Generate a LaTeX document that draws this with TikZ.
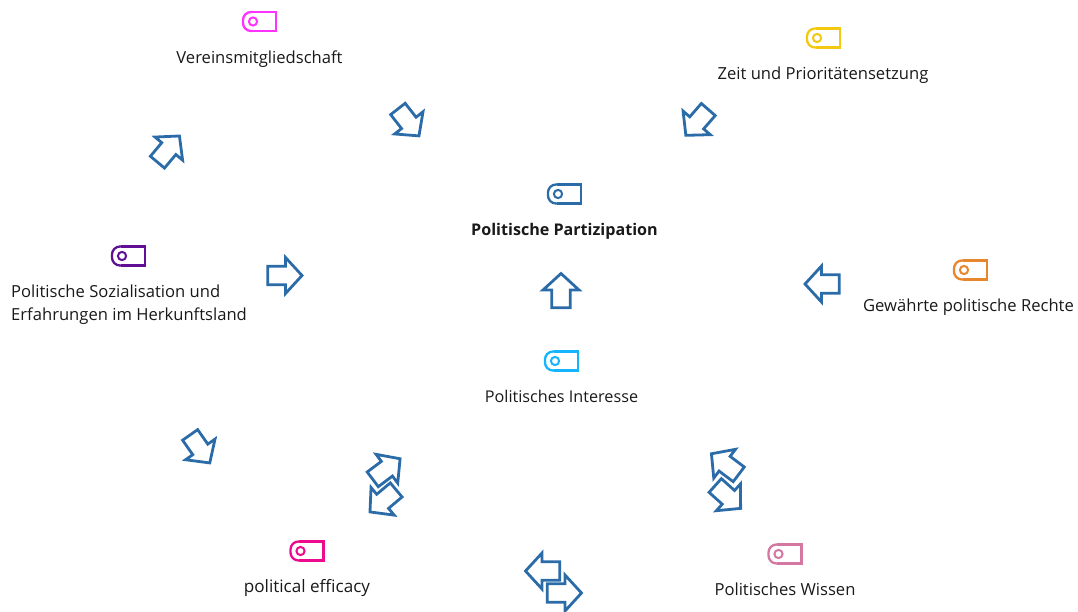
\documentclass[tikz,border=0pt]{standalone}
\usepackage{fontspec}
\setmainfont{Open Sans}
\definecolor{arrowblue}{HTML}{2B6CA8}
\definecolor{tagpink}{HTML}{FF33FF}
\definecolor{tagyellow}{HTML}{F2C811}
\definecolor{tagpurple}{HTML}{5F1097}
\definecolor{tagorange}{HTML}{E8862E}
\definecolor{tagcyan}{HTML}{14B4FF}
\definecolor{tagmagenta}{HTML}{EE0A8C}
\definecolor{tagrose}{HTML}{D577A3}
\tikzset{
  x=1pt,y=1pt,
  blockarrow/.pic={
    \draw[draw=arrowblue,line width=2.8pt,line join=miter,miter limit=10]
      (-17.2,-9.2) -- (0.5,-9.2) -- (0.5,-18) -- (17,0) -- (0.5,18) -- (0.5,9.2) -- (-17.2,9.2) -- cycle;
  },
  lab/.style={font=\fontsize{16.6}{23}\selectfont,text=black!90,inner sep=0pt,align=left},
  tag/.pic={
    \draw[line width=2.3pt,draw=#1,rounded corners=8pt] (-7,-9.5) -- (-16.5,-9.5) -- (-16.5,9.5) -- (-7,9.5);
    \draw[line width=2.3pt,draw=#1,line join=miter] (-8,9.5) -- (16.5,9.5) -- (16.5,-9.5) -- (-8,-9.5);
    \draw[line width=2pt,draw=#1] (-6.5,0) circle (4.1);
  }
}
\begin{document}
\begin{tikzpicture}
\useasboundingbox (0,0) rectangle (1078,-612);
% tags
\pic at (259.5,-21.5) {tag=tagpink};
\pic at (823.5,-38) {tag=tagyellow};
\pic at (564.5,-194) {tag=arrowblue};
\pic at (128.5,-256) {tag=tagpurple};
\pic at (970.5,-270) {tag=tagorange};
\pic at (561.5,-361) {tag=tagcyan};
\pic at (307,-551) {tag=tagmagenta};
\pic at (785,-554) {tag=tagrose};
% labels
\node[lab,anchor=base] (verein) at (259.5,-63.2) {Vereinsmitgliedschaft};
\node[lab,anchor=base] (zeit) at (823,-79.7) {Zeit und Prioritätensetzung};
\node[lab,anchor=base,font=\fontsize{16.1}{23}\selectfont\bfseries] (part) at (564.5,-235.7) {Politische Partizipation};
\node[lab,anchor=west] (sozial) at (11,-305) {Politische Sozialisation und\\Erfahrungen im Herkunftsland};
\node[lab,anchor=base] (rechte) at (968.5,-311.5) {Gewährte politische Rechte};
\node[lab,anchor=base,font=\fontsize{16.2}{23}\selectfont] (interesse) at (561.5,-402) {Politisches Interesse};
\node[lab,anchor=base,font=\fontsize{17.1}{23}\selectfont] (efficacy) at (307,-592) {political efficacy};
\node[lab,anchor=base] (wissen) at (785,-595) {Politisches Wissen};
% arrows
\pic[rotate=90] at (561,-290.5) {blockarrow};
\pic[rotate=180] at (822,-284) {blockarrow};
\pic at (285,-275.5) {blockarrow};
\pic[rotate=50] at (168.5,-149) {blockarrow};
\pic[rotate=-52] at (408.5,-122.5) {blockarrow};
\pic[rotate=-131] at (697,-122.5) {blockarrow};
\pic[rotate=-55] at (200,-449) {blockarrow};
\pic[rotate=37] at (386.5,-469) {blockarrow};
\pic[rotate=-140] at (383,-501) {blockarrow};
\pic[rotate=180] at (542.5,-571) {blockarrow};
\pic at (564.5,-593) {blockarrow};
\pic[rotate=143] at (725,-464) {blockarrow};
\pic[rotate=-42] at (728,-497) {blockarrow};
\end{tikzpicture}
\end{document}
